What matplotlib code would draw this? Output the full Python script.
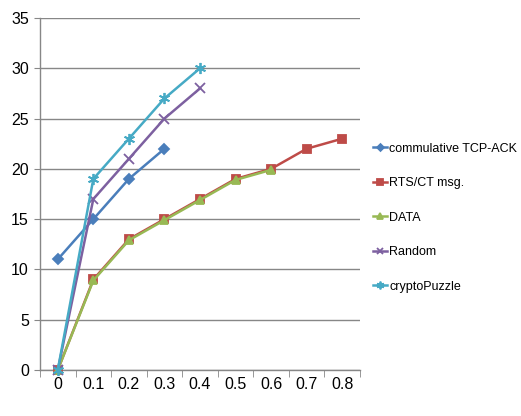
import numpy as np
import matplotlib
matplotlib.use("Agg")
import matplotlib.pyplot as plt

plt.rcParams['font.family'] = ['Liberation Sans', 'DejaVu Sans']

# categories on the x axis
categories = ["0", "0.1", "0.2", "0.3", "0.4", "0.5", "0.6", "0.7", "0.8"]

# series values
tcp_ack = [11, 15, 19, 22]
rts_ct = [0, 9, 13, 15, 17, 19, 20, 22, 23]
data_vals = [0, 8.9, 12.9, 14.9, 16.9, 18.9, 19.9]
random_vals = [0, 17, 21, 25, 28]
crypto = [0, 19, 23, 27, 30]

series = [
    ("commulative TCP-ACK", tcp_ack, "#4A7EBB", "D", 5),
    ("RTS/CT msg.", rts_ct, "#BE4B48", "s", 6),
    ("DATA", data_vals, "#98B954", "^", 6),
    ("Random", random_vals, "#7D60A0", "x", 7),
    ("cryptoPuzzle", crypto, "#46AAC5", (6, 2, 0), 8),
]

fig = plt.figure(figsize=(5.21, 4.16), dpi=100)
ax = fig.add_axes([40 / 521, 1 - 370 / 416, 320 / 521, 352 / 416])

for name, vals, col, mk, ms in series:
    x = np.arange(len(vals))
    ax.plot(x, vals, color=col, lw=1.8, marker=mk, markersize=ms,
            markeredgecolor=col, markerfacecolor=col, markeredgewidth=1.3,
            label=name, clip_on=False, zorder=3)

ax.set_xlim(-0.5, len(categories) - 0.5)
ax.set_ylim(0, 35)
ax.set_yticks(np.arange(0, 36, 5))
ax.set_xticks(np.arange(len(categories)))
ax.set_xticklabels(categories)
ax.set_xticks(np.arange(-0.5, len(categories)), minor=True)

ax.grid(axis='y', color='#878787', lw=1)
ax.set_axisbelow(True)
for s in ['top', 'right']:
    ax.spines[s].set_visible(False)
for s in ['left', 'bottom']:
    ax.spines[s].set_color('#878787')
    ax.spines[s].set_linewidth(1)

ax.tick_params(axis='x', which='major', length=0, pad=5, labelsize=11.5)
ax.tick_params(axis='x', which='minor', length=5, color='#878787', direction='out')
ax.tick_params(axis='y', length=4, color='#878787', pad=4, labelsize=11.5)

leg = ax.legend(loc='upper left', bbox_to_anchor=(1.025, 0.66), frameon=False,
                fontsize=9, handlelength=1.15, handletextpad=0.15,
                labelspacing=1.8, borderaxespad=0, markerscale=0.7)

plt.savefig("out.png", dpi=100)
